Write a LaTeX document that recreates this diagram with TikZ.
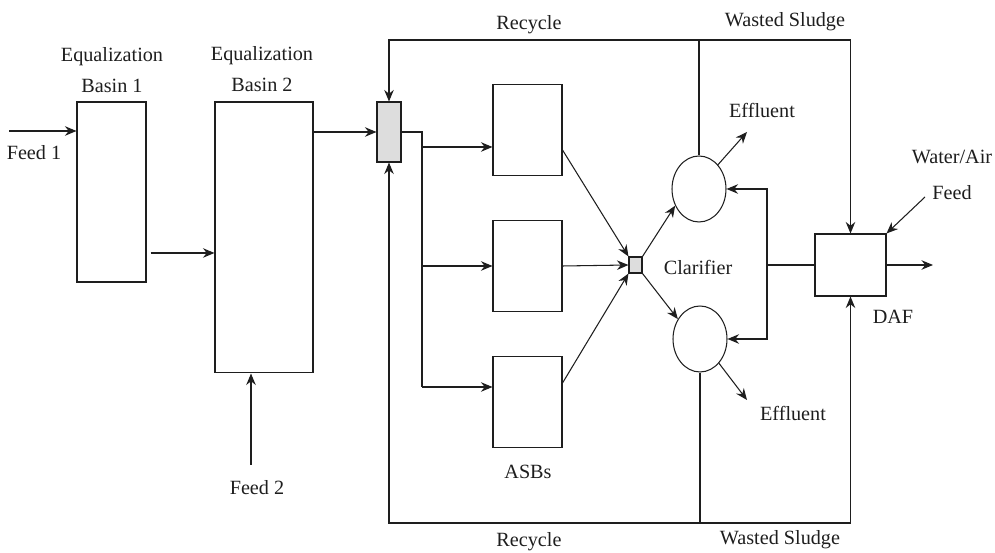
\documentclass[tikz,border=0pt]{standalone}
\usepackage{fontspec}
\setmainfont{Liberation Serif}
\usetikzlibrary{arrows.meta,positioning,shapes.geometric}
\definecolor{ink}{HTML}{1E1E1E}

\begin{document}
\begin{tikzpicture}[
  x=0.02cm, y=-0.02cm, line width=0.6pt, color=ink, >=Stealth,
  flow/.style={-{Stealth[length=2.3mm,width=1.9mm]}},
  tank/.style={draw, rectangle, inner sep=0pt},
  mix/.style={draw, fill=ink!15, inner sep=0pt},
  clar/.style={draw, ellipse, inner sep=0pt,
               minimum width=1.08cm, minimum height=1.32cm},
  lbl/.style={align=center, inner sep=0pt,
              font=\fontsize{11.5}{17.6}\selectfont}]

\useasboundingbox (0,0) rectangle (995,553);

% ==================================================== units
\node[tank, minimum width=1.38cm, minimum height=3.6cm]  (basinA) at (111.5,192) {};
\node[tank, minimum width=1.96cm, minimum height=5.42cm] (basinB) at (264,237.5) {};
\node[mix, minimum width=0.48cm, minimum height=1.2cm]   (mixA) at (389,132) {};
\foreach \k/\y in {1/130, 2/266, 3/402}
  \node[tank, minimum width=1.38cm, minimum height=1.82cm] (asb\k) at (527.5,\y) {};
\node[mix, minimum width=0.26cm, minimum height=0.32cm]  (mixB) at (635.5,265) {};
\node[clar] (clarA) at (699,189) {};
\node[clar] (clarB) at (700,339) {};
\node[tank, minimum width=1.42cm, minimum height=1.24cm] (daf) at (850.5,265) {};

% free ends
\coordinate (feedA) at (9,131);
\coordinate (feedB) at (251,465);
\coordinate (bus)   at (422,132);
\coordinate (top)   at (0,40);
\coordinate (bot)   at (0,523);
\coordinate (ret)   at (767,265);
\coordinate (effA)  at (747,132);
\coordinate (effB)  at (747,400);
\coordinate (out)   at (933,265);
\coordinate (air)   at (925,197);

% ==================================================== main line
\draw[flow] (feedA) -- (feedA -| basinA.west);
\draw[flow, shorten <=0.08cm] ([yshift=-1.22cm]basinA.east)
  -- ([yshift=-1.22cm]basinA.east -| basinB.west);
\draw[flow] (feedB) -- (feedB |- basinB.south);
\draw[flow] (basinB.east |- mixA) -- (mixA.west);

\draw (mixA.east) -- (bus) -- ([yshift=0.3cm]asb3.west -| bus);
\foreach \k/\dy in {1/-0.34, 2/0, 3/0.3}
  \draw[flow] ([yshift=\dy cm]asb\k.west -| bus) -- ([yshift=\dy cm]asb\k.west);

\draw[flow] ([yshift=-0.4cm]asb1.east) -- (mixB.north west);
\draw[flow] (asb2.east) -- (mixB.west);
\draw[flow] ([yshift=0.38cm]asb3.east) -- (mixB.south west);
\draw[flow] (mixB.north east) -- (clarA.215);
\draw[flow] (mixB.south east) -- (clarB.138);
\draw[flow] (clarA.52) -- (effA);
\draw[flow] (clarB.-52) -- (effB);

% DAF and its return
\draw (daf.west) -- (ret);
\draw[flow] (ret) |- (clarA.east);
\draw[flow] (ret) |- (clarB.east);
\draw[flow] (daf.east) -- (out);
\draw[flow] (air) -- (daf.north east);

% ==================================================== recycle / wasted sludge
\draw[flow] (clarA.north) -- (clarA.north |- top) -| (mixA.north);
\draw[flow] (clarA.north |- top) -| (daf.north);
\draw[flow] (clarB.south) -- (clarB.south |- bot) -| (mixA.south);
\draw[flow] (clarB.south |- bot) -| (daf.south);

% ==================================================== labels
\node[lbl] (tFeedA)  at (34,153)    {Feed 1};
\node[lbl] (tFeedB)  at (257,488)   {Feed 2};
\node[lbl] (tBasinA) at (112,70.5)  {Equalization\\Basin 1};
\node[lbl] (tBasinB) at (262,69)    {Equalization\\Basin 2};
\node[lbl] (tRecA)   at (529,25)    {Recycle};
\node[lbl] (tRecB)   at (529,542)   {Recycle};
\node[lbl] (tWasteA) at (785,22)    {Wasted Sludge};
\node[lbl] (tWasteB) at (780,540)   {Wasted Sludge};
\node[lbl] (tEffA)   at (762,110)   {Effluent};
\node[lbl] (tEffB)   at (793,413)   {Effluent};
\node[lbl] (tClar)   at (698,267)   {Clarifier};
\node[lbl] (tAsb)    at (528,472)   {ASBs};
\node[lbl] (tDaf)    at (893,317)   {DAF};
\node[lbl] (tAir)    at (952,175)   {Water/Air\\[2.9pt]Feed};

\end{tikzpicture}
\end{document}
